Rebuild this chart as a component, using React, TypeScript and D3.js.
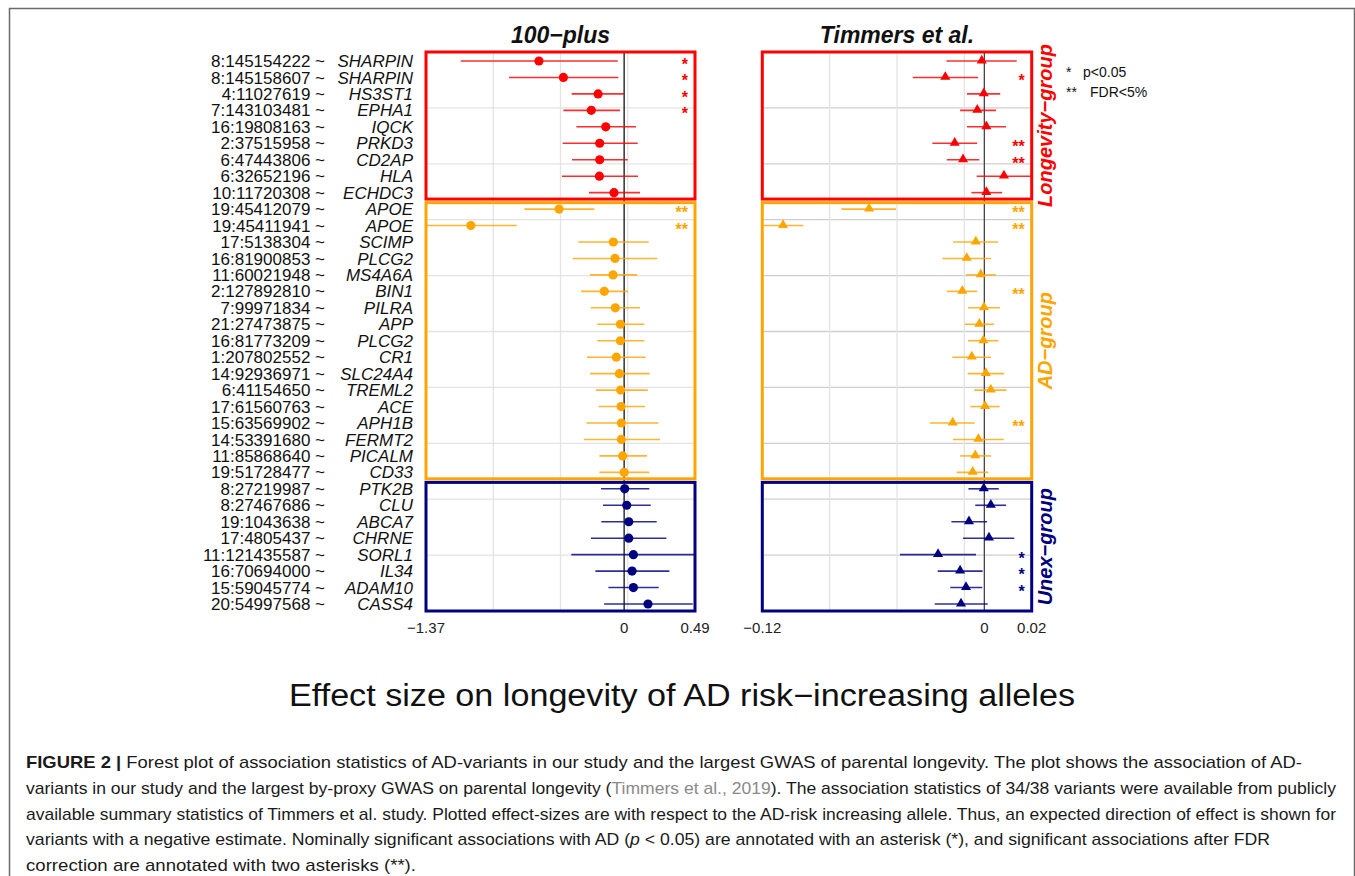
import React from "react";
import * as d3 from "d3";

// variant positions and genes, top to bottom
const positions = [
  "8:145154222", "8:145158607", "4:11027619", "7:143103481", "16:19808163", "2:37515958",
  "6:47443806", "6:32652196", "10:11720308", "19:45412079", "19:45411941", "17:5138304",
  "16:81900853", "11:60021948", "2:127892810", "7:99971834", "21:27473875", "16:81773209",
  "1:207802552", "14:92936971", "6:41154650", "17:61560763", "15:63569902", "14:53391680",
  "11:85868640", "19:51728477", "8:27219987", "8:27467686", "19:1043638", "17:4805437",
  "11:121435587", "16:70694000", "15:59045774", "20:54997568",
];
const genes = [
  "SHARPIN", "SHARPIN", "HS3ST1", "EPHA1", "IQCK", "PRKD3", "CD2AP", "HLA", "ECHDC3",
  "APOE", "APOE", "SCIMP", "PLCG2", "MS4A6A", "BIN1", "PILRA", "APP", "PLCG2", "CR1",
  "SLC24A4", "TREML2", "ACE", "APH1B", "FERMT2", "PICALM", "CD33",
  "PTK2B", "CLU", "ABCA7", "CHRNE", "SORL1", "IL34", "ADAM10", "CASS4",
];
const groupNames = ["Longevity\u2212group", "AD\u2212group", "Unex\u2212group"];
const groupSizes = [9, 17, 8];

// 100-plus estimates
const plusEst = [
  -0.589, -0.42, -0.18, -0.227, -0.127, -0.169, -0.169, -0.171, -0.07, -0.45, -1.06, -0.075,
  -0.063, -0.077, -0.137, -0.061, -0.026, -0.026, -0.054, -0.033, -0.024, -0.021, -0.019,
  -0.019, -0.01, 0.0, 0.004, 0.018, 0.032, 0.032, 0.064, 0.055, 0.064, 0.165,
];
const plusLo = [
  -1.13, -0.796, -0.363, -0.42, -0.33, -0.425, -0.36, -0.43, -0.243, -0.69, -1.37, -0.317,
  -0.355, -0.236, -0.298, -0.231, -0.185, -0.185, -0.257, -0.236, -0.196, -0.176, -0.261,
  -0.279, -0.171, -0.171, -0.16, -0.146, -0.158, -0.229, -0.365, -0.199, -0.109, -0.139,
];
const plusHi = [
  -0.044, -0.04, 0.0, -0.028, 0.082, 0.094, 0.025, 0.096, 0.11, -0.206, -0.743, 0.17, 0.23,
  0.091, 0.027, 0.11, 0.14, 0.14, 0.149, 0.177, 0.163, 0.145, 0.237, 0.248, 0.158, 0.174,
  0.174, 0.184, 0.225, 0.292, 0.49, 0.313, 0.239, 0.474,
];
const plusSig = [
  "*", "*", "*", "*", "", "", "", "", "", "**", "**", "", "", "", "", "", "", "", "", "", "",
  "", "", "", "", "", "", "", "", "", "", "", "", "",
];

// Timmers et al. estimates
const timEst = [
  -0.0014, -0.0211, -0.0003, -0.0038, 0.0011, -0.016, -0.0115, 0.0106, 0.0011, -0.0623,
  -0.1088, -0.0046, -0.0095, -0.0019, -0.0119, -0.0002, -0.0027, -0.0005, -0.0068, 0.0008,
  0.0035, 0.0004, -0.0171, -0.0032, -0.0049, -0.0063, -0.0003, 0.0035, -0.0083, 0.0025,
  -0.025, -0.0131, -0.0099, -0.0126,
];
const timLo = [
  -0.0205, -0.0387, -0.0094, -0.0131, -0.0094, -0.0281, -0.0203, -0.0041, -0.007, -0.0773,
  -0.1195, -0.0169, -0.0227, -0.01, -0.0203, -0.0088, -0.0106, -0.0088, -0.0173, -0.009,
  -0.0054, -0.0076, -0.0294, -0.0169, -0.0131, -0.0149, -0.0086, -0.0049, -0.0178, -0.0115,
  -0.0456, -0.0252, -0.0184, -0.0268,
];
const timHi = [
  0.0175, -0.0034, 0.0086, 0.0063, 0.0117, -0.0039, -0.0027, 0.0256, 0.0096, -0.0477,
  -0.0978, 0.0074, 0.0036, 0.0063, -0.0038, 0.0085, 0.0052, 0.0076, 0.0035, 0.0106, 0.0121,
  0.0083, -0.0052, 0.0105, 0.0035, 0.0022, 0.0078, 0.0117, 0.0015, 0.0162, -0.0045, -0.0009,
  -0.0011, 0.0018,
];
const timSig = [
  "", "*", "", "", "", "**", "**", "", "", "**", "**", "", "", "", "**", "", "", "", "", "",
  "", "", "**", "", "", "", "", "", "", "", "*", "*", "*", "",
];

const plusTicks = [-1.37, 0, 0.49];
const plusTickLabels = ["\u22121.37", "0", "0.49"];
const timTicks = [-0.12, 0, 0.0256];
const timTickLabels = ["\u22120.12", "0", "0.02"];
const xGridFractions = [0.25, 0.5, 0.75];
const yGridFractions = [0.1, 0.2, 0.3, 0.4, 0.5, 0.6, 0.7, 0.8, 0.9];

const groupColors = ["#FF0000", "#FFA500", "#000080"];
const FONT = "'Liberation Sans', Arial, Helvetica, sans-serif";

const captionLines = [
  [
    { t: "FIGURE 2 | ", w: "bold" },
    { t: "Forest plot of association statistics of AD-variants in our study and the largest GWAS of parental longevity. The plot shows the association of AD-" },
  ],
  [
    { t: "variants in our study and the largest by-proxy GWAS on parental longevity (" },
    { t: "Timmers et al., 2019", c: "#8a8a8a" },
    { t: "). The association statistics of 34/38 variants were available from publicly" },
  ],
  [
    { t: "available summary statistics of Timmers et al. study. Plotted effect-sizes are with respect to the AD-risk increasing allele. Thus, an expected direction of effect is shown for" },
  ],
  [
    { t: "variants with a negative estimate. Nominally significant associations with AD (" },
    { t: "p", s: "italic" },
    { t: " < 0.05) are annotated with an asterisk (*), and significant associations after FDR" },
  ],
  [{ t: "correction are annotated with two asterisks (**)." }],
];
const captionWidths = [1276, 1310, 1310, 1244, 390];

export default function App() {
  const n = genes.length;
  const groupOf: number[] = [];
  groupSizes.forEach((s, g) => {
    for (let i = 0; i < s; i++) groupOf.push(g);
  });

  const top = 52;
  const bottom = 611;
  const y = d3.scalePoint<number>().domain(d3.range(n)).range([61, 604]);
  const yFrac = d3.scaleLinear().domain([0, 1]).range([top, bottom]);
  const step = y.step();

  const panels = [
    {
      title: "100\u2212plus", x0: 426, x1: 695, domain: [-1.37, 0.49],
      est: plusEst, lo: plusLo, hi: plusHi, sig: plusSig,
      ticks: plusTicks, labels: plusTickLabels, tri: false, hgrid: "#e3e3e3",
    },
    {
      title: "Timmers et al.", x0: 762.3, x1: 1031.7, domain: [-0.12, 0.0256],
      est: timEst, lo: timLo, hi: timHi, sig: timSig,
      ticks: timTicks, labels: timTickLabels, tri: true, hgrid: "#cfcfcf",
    },
  ];

  // group boxes
  const boxes: { g: number; y0: number; y1: number }[] = [];
  let start = 0;
  groupSizes.forEach((s, g) => {
    const first = y(start)!;
    const last = y(start + s - 1)!;
    boxes.push({
      g,
      y0: g === 0 ? top : first - step / 2 + 1.8,
      y1: g === groupSizes.length - 1 ? bottom : last + step / 2 - 1.8,
    });
    start += s;
  });

  const triPath = d3.symbol(d3.symbolTriangle, 44)()!;

  return (
    <svg width={1355} height={876} style={{ position: "absolute", left: 0, top: 0 }} fontFamily={FONT}>
      <rect x={0} y={0} width={1355} height={876} fill="#fff" />
      <rect x={9.5} y={8.5} width={1345} height={900} fill="none" stroke="#6b6b6b" strokeWidth={1.5} />

      {/* row labels */}
      {positions.map((p, i) => (
        <g key={"lab" + i} fontSize={17} fill="#111">
          <text x={325} y={y(i)} dy="0.36em" textAnchor="end">{p} ~</text>
          <text x={413} y={y(i)} dy="0.36em" textAnchor="end" fontStyle="italic">{genes[i]}</text>
        </g>
      ))}

      {panels.map((pn, pi) => {
        const x = d3.scaleLinear().domain(pn.domain).range([pn.x0, pn.x1]);
        const xf = d3.scaleLinear().domain([0, 1]).range([pn.x0, pn.x1]);
        return (
          <g key={"p" + pi}>
            {yGridFractions.map((f) => (
              <line key={"h" + f} x1={pn.x0} x2={pn.x1} y1={yFrac(f)} y2={yFrac(f)} stroke={pn.hgrid} strokeWidth={1.3} />
            ))}
            {xGridFractions.map((f) => (
              <line key={"v" + f} x1={xf(f)} x2={xf(f)} y1={top} y2={bottom} stroke="#e3e3e3" strokeWidth={1.3} />
            ))}
            <line x1={x(0)} x2={x(0)} y1={top} y2={bottom} stroke={pi === 0 ? "#111" : "#444"} strokeWidth={1.3} />
            {pn.est.map((v, i) => {
              const col = groupColors[groupOf[i]];
              return (
                <g key={"m" + i}>
                  <line x1={x(pn.lo[i])} x2={x(pn.hi[i])} y1={y(i)} y2={y(i)} stroke={col} strokeWidth={1.6} strokeOpacity={0.82} />
                  {pn.tri ? (
                    <path d={triPath} transform={`translate(${x(v)},${y(i)! - 0.5})`} fill={col} />
                  ) : (
                    <circle cx={x(v)} cy={y(i)} r={4.6} fill={col} />
                  )}
                  {pn.sig[i] && (
                    <text x={pn.x1 - 7} y={y(i)! + 9} textAnchor="end" fontSize={16} fontWeight="bold" fill={col}>
                      {pn.sig[i]}
                    </text>
                  )}
                </g>
              );
            })}
            {boxes.map((b) => (
              <rect key={"b" + b.g} x={pn.x0} y={b.y0} width={pn.x1 - pn.x0} height={b.y1 - b.y0} fill="none" stroke={groupColors[b.g]} strokeWidth={3} />
            ))}
            {pn.ticks.map((t, k) => (
              <text key={"t" + k} x={x(t)} y={633} textAnchor="middle" fontSize={15} fill="#222">
                {pn.labels[k]}
              </text>
            ))}
            <text x={(pn.x0 + pn.x1) / 2} y={43} textAnchor="middle" fontSize={23} fontWeight="bold" fontStyle="italic" fill="#111">
              {pn.title}
            </text>
          </g>
        );
      })}

      {/* group labels */}
      {boxes.map((b) => (
        <text key={"g" + b.g} transform={`translate(1052,${(b.y0 + b.y1) / 2}) rotate(-90)`} textAnchor="middle" fontSize={20} fontWeight="bold" fontStyle="italic" fill={groupColors[b.g]}>
          {groupNames[b.g]}
        </text>
      ))}

      {/* legend */}
      <g fontSize={14} fill="#111">
        <text x={1066} y={77}>*</text>
        <text x={1083} y={77}>p&lt;0.05</text>
        <text x={1066} y={97}>**</text>
        <text x={1090} y={97}>FDR&lt;5%</text>
      </g>

      <text x={682} y={706} textAnchor="middle" fontSize={31} fill="#111" textLength={786} lengthAdjust="spacingAndGlyphs">
        Effect size on longevity of AD risk{"\u2212"}increasing alleles
      </text>

      {captionLines.map((line, li) => (
        <text
          key={"c" + li}
          x={26}
          y={768 + li * 25.8}
          fontSize={17}
          fill="#1a1a1a"
          textLength={captionWidths[li]}
          lengthAdjust="spacingAndGlyphs"
        >
          {line.map((s: any, si) => (
            <tspan key={si} fontWeight={s.w || "normal"} fontStyle={s.s || "normal"} fill={s.c || "#1a1a1a"}>
              {s.t}
            </tspan>
          ))}
        </text>
      ))}
    </svg>
  );
}
